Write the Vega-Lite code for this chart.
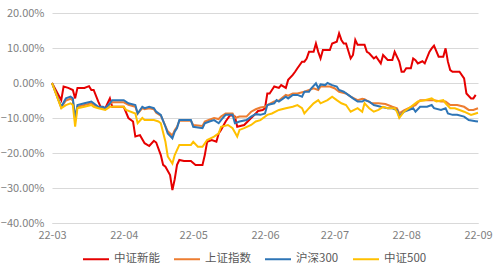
{
  "$schema": "https://vega.github.io/schema/vega-lite/v6.json",
  "width": 426,
  "height": 210,
  "autosize": {"type": "none"},
  "padding": {"left": 52, "top": 13, "right": 22, "bottom": 43},
  "background": "white",
  "config": {
    "view": {"stroke": null},
    "font": "Noto Sans CJK SC",
    "line": {"strokeWidth": 2, "interpolate": "linear"}
  },
  "datasets": {
    "red": [
      {"d":"2022-03-01","v":0},{"d":"2022-03-05","v":-4.9},{"d":"2022-03-06","v":-1.0},{"d":"2022-03-08","v":-1.4},{"d":"2022-03-10","v":-2.0},{"d":"2022-03-11","v":-4.4},{"d":"2022-03-12","v":-1.4},{"d":"2022-03-15","v":-1.4},{"d":"2022-03-17","v":-0.9},{"d":"2022-03-18","v":-2.0},{"d":"2022-03-19","v":-2.0},{"d":"2022-03-21","v":-5.3},{"d":"2022-03-22","v":-6.8},{"d":"2022-03-24","v":-7.2},{"d":"2022-03-26","v":-4.4},{"d":"2022-03-27","v":-6.8},{"d":"2022-03-28","v":-6.8},
      {"d":"2022-04-01","v":-6.8},{"d":"2022-04-03","v":-10.0},{"d":"2022-04-05","v":-11.0},{"d":"2022-04-06","v":-15.3},{"d":"2022-04-08","v":-14.9},{"d":"2022-04-10","v":-17.2},{"d":"2022-04-12","v":-18.0},{"d":"2022-04-14","v":-16.5},{"d":"2022-04-15","v":-17.0},{"d":"2022-04-17","v":-20.6},{"d":"2022-04-18","v":-23.4},{"d":"2022-04-19","v":-23.9},{"d":"2022-04-21","v":-26.3},{"d":"2022-04-22","v":-30.6},{"d":"2022-04-23","v":-27.5},{"d":"2022-04-24","v":-23.4},{"d":"2022-04-25","v":-22.0},{"d":"2022-04-27","v":-22.3},{"d":"2022-04-30","v":-22.3},
      {"d":"2022-05-02","v":-23.4},{"d":"2022-05-05","v":-23.4},{"d":"2022-05-06","v":-20.6},{"d":"2022-05-07","v":-16.8},{"d":"2022-05-09","v":-16.3},{"d":"2022-05-11","v":-16.8},{"d":"2022-05-12","v":-14.4},{"d":"2022-05-13","v":-13.4},{"d":"2022-05-15","v":-11.0},{"d":"2022-05-17","v":-9.1},{"d":"2022-05-19","v":-9.6},{"d":"2022-05-20","v":-12.5},{"d":"2022-05-23","v":-12.0},{"d":"2022-05-26","v":-10.0},{"d":"2022-05-28","v":-8.7},{"d":"2022-05-29","v":-8.0},{"d":"2022-05-31","v":-7.7},
      {"d":"2022-06-01","v":-7.2},{"d":"2022-06-02","v":-3.0},{"d":"2022-06-03","v":-3.0},{"d":"2022-06-04","v":-2.0},{"d":"2022-06-05","v":-1.0},{"d":"2022-06-07","v":-1.4},{"d":"2022-06-08","v":-0.6},{"d":"2022-06-10","v":-1.4},{"d":"2022-06-11","v":0.9},{"d":"2022-06-13","v":2.3},{"d":"2022-06-14","v":3.2},{"d":"2022-06-15","v":4.2},{"d":"2022-06-17","v":6.1},{"d":"2022-06-18","v":6.1},{"d":"2022-06-19","v":7.0},{"d":"2022-06-20","v":8.9},{"d":"2022-06-22","v":8.9},{"d":"2022-06-23","v":11.3},{"d":"2022-06-24","v":8.9},{"d":"2022-06-25","v":7.0},{"d":"2022-06-26","v":9.4},{"d":"2022-06-29","v":9.4},{"d":"2022-06-30","v":11.3},
      {"d":"2022-07-02","v":11.8},{"d":"2022-07-03","v":14.2},{"d":"2022-07-04","v":12.3},{"d":"2022-07-05","v":11.3},{"d":"2022-07-06","v":11.3},{"d":"2022-07-08","v":7.0},{"d":"2022-07-09","v":8.0},{"d":"2022-07-10","v":12.3},{"d":"2022-07-11","v":10.9},{"d":"2022-07-14","v":10.9},{"d":"2022-07-15","v":8.9},{"d":"2022-07-16","v":8.5},{"d":"2022-07-18","v":7.0},{"d":"2022-07-19","v":7.5},{"d":"2022-07-21","v":5.6},{"d":"2022-07-22","v":8.0},{"d":"2022-07-24","v":6.6},{"d":"2022-07-26","v":6.6},{"d":"2022-07-27","v":8.9},{"d":"2022-07-29","v":6.1},{"d":"2022-07-30","v":3.2},{"d":"2022-07-31","v":3.2},
      {"d":"2022-08-01","v":4.2},{"d":"2022-08-03","v":4.2},{"d":"2022-08-04","v":7.0},{"d":"2022-08-05","v":6.5},{"d":"2022-08-06","v":5.6},{"d":"2022-08-08","v":6.2},{"d":"2022-08-09","v":5.6},{"d":"2022-08-11","v":8.9},{"d":"2022-08-12","v":9.9},{"d":"2022-08-13","v":10.7},{"d":"2022-08-15","v":7.5},{"d":"2022-08-17","v":7.5},{"d":"2022-08-18","v":9.9},{"d":"2022-08-19","v":6.1},{"d":"2022-08-20","v":3.7},{"d":"2022-08-21","v":3.2},{"d":"2022-08-24","v":3.2},{"d":"2022-08-26","v":1.3},{"d":"2022-08-27","v":-3.0},{"d":"2022-08-29","v":-4.4},{"d":"2022-08-30","v":-4.4},{"d":"2022-08-31","v":-3.4}
    ],
    "orange": [
      {"d":"2022-03-01","v":0},{"d":"2022-03-05","v":-7.0},{"d":"2022-03-07","v":-5.0},{"d":"2022-03-09","v":-4.5},{"d":"2022-03-10","v":-5.0},{"d":"2022-03-11","v":-10.5},{"d":"2022-03-12","v":-6.8},{"d":"2022-03-15","v":-6.3},{"d":"2022-03-18","v":-5.8},{"d":"2022-03-19","v":-6.2},{"d":"2022-03-21","v":-7.0},{"d":"2022-03-23","v":-7.2},{"d":"2022-03-24","v":-7.5},{"d":"2022-03-26","v":-6.0},{"d":"2022-03-27","v":-5.5},
      {"d":"2022-04-01","v":-5.5},{"d":"2022-04-03","v":-6.2},{"d":"2022-04-06","v":-6.8},{"d":"2022-04-07","v":-8.8},{"d":"2022-04-09","v":-7.2},{"d":"2022-04-10","v":-7.5},{"d":"2022-04-12","v":-7.2},{"d":"2022-04-14","v":-7.5},{"d":"2022-04-15","v":-8.5},{"d":"2022-04-17","v":-9.3},{"d":"2022-04-19","v":-12.3},{"d":"2022-04-20","v":-13.8},{"d":"2022-04-22","v":-15.0},{"d":"2022-04-23","v":-13.5},{"d":"2022-04-24","v":-12.5},{"d":"2022-04-25","v":-10.8},{"d":"2022-04-30","v":-10.8},
      {"d":"2022-05-01","v":-12.0},{"d":"2022-05-05","v":-12.3},{"d":"2022-05-06","v":-11.0},{"d":"2022-05-08","v":-10.5},{"d":"2022-05-10","v":-10.0},{"d":"2022-05-12","v":-10.3},{"d":"2022-05-13","v":-9.6},{"d":"2022-05-15","v":-8.7},{"d":"2022-05-18","v":-8.7},{"d":"2022-05-19","v":-10.0},{"d":"2022-05-21","v":-9.6},{"d":"2022-05-24","v":-9.6},{"d":"2022-05-26","v":-8.2},{"d":"2022-05-28","v":-7.5},{"d":"2022-05-30","v":-7.0},
      {"d":"2022-06-01","v":-6.8},{"d":"2022-06-02","v":-6.3},{"d":"2022-06-05","v":-5.3},{"d":"2022-06-07","v":-5.0},{"d":"2022-06-10","v":-3.4},{"d":"2022-06-11","v":-3.6},{"d":"2022-06-13","v":-3.0},{"d":"2022-06-15","v":-3.0},{"d":"2022-06-18","v":-2.5},{"d":"2022-06-22","v":-1.5},{"d":"2022-06-24","v":-2.0},{"d":"2022-06-25","v":-1.0},{"d":"2022-06-29","v":-1.0},
      {"d":"2022-07-01","v":-1.5},{"d":"2022-07-03","v":-2.5},{"d":"2022-07-06","v":-3.0},{"d":"2022-07-08","v":-3.9},{"d":"2022-07-11","v":-4.9},{"d":"2022-07-13","v":-4.5},{"d":"2022-07-14","v":-4.6},{"d":"2022-07-17","v":-5.8},{"d":"2022-07-20","v":-5.8},{"d":"2022-07-23","v":-6.0},{"d":"2022-07-26","v":-6.8},{"d":"2022-07-28","v":-7.2},{"d":"2022-07-29","v":-8.7},{"d":"2022-07-31","v":-7.8},
      {"d":"2022-08-02","v":-7.2},{"d":"2022-08-05","v":-6.3},{"d":"2022-08-07","v":-4.9},{"d":"2022-08-11","v":-4.9},{"d":"2022-08-13","v":-4.9},{"d":"2022-08-16","v":-5.3},{"d":"2022-08-18","v":-5.3},{"d":"2022-08-20","v":-6.3},{"d":"2022-08-23","v":-6.3},{"d":"2022-08-26","v":-6.8},{"d":"2022-08-28","v":-7.7},{"d":"2022-08-30","v":-7.7},{"d":"2022-09-01","v":-7.2}
    ],
    "blue": [
      {"d":"2022-03-01","v":0},{"d":"2022-03-05","v":-6.8},{"d":"2022-03-07","v":-4.4},{"d":"2022-03-09","v":-3.9},{"d":"2022-03-10","v":-4.4},{"d":"2022-03-11","v":-10.0},{"d":"2022-03-12","v":-6.3},{"d":"2022-03-15","v":-5.8},{"d":"2022-03-18","v":-5.3},{"d":"2022-03-19","v":-5.8},{"d":"2022-03-21","v":-6.8},{"d":"2022-03-23","v":-6.8},{"d":"2022-03-24","v":-7.2},{"d":"2022-03-26","v":-5.8},{"d":"2022-03-27","v":-4.9},
      {"d":"2022-04-01","v":-4.9},{"d":"2022-04-03","v":-5.8},{"d":"2022-04-06","v":-6.3},{"d":"2022-04-07","v":-8.7},{"d":"2022-04-09","v":-6.8},{"d":"2022-04-10","v":-7.2},{"d":"2022-04-12","v":-6.8},{"d":"2022-04-14","v":-7.2},{"d":"2022-04-15","v":-8.2},{"d":"2022-04-17","v":-9.1},{"d":"2022-04-19","v":-12.5},{"d":"2022-04-20","v":-14.4},{"d":"2022-04-22","v":-15.8},{"d":"2022-04-23","v":-13.9},{"d":"2022-04-24","v":-12.9},{"d":"2022-04-25","v":-10.6},{"d":"2022-04-30","v":-10.6},
      {"d":"2022-05-01","v":-12.5},{"d":"2022-05-05","v":-12.9},{"d":"2022-05-06","v":-11.5},{"d":"2022-05-08","v":-11.0},{"d":"2022-05-10","v":-10.6},{"d":"2022-05-12","v":-11.5},{"d":"2022-05-13","v":-10.6},{"d":"2022-05-15","v":-9.1},{"d":"2022-05-18","v":-9.1},{"d":"2022-05-19","v":-11.5},{"d":"2022-05-21","v":-11.0},{"d":"2022-05-24","v":-10.6},{"d":"2022-05-26","v":-9.6},{"d":"2022-05-28","v":-8.9},{"d":"2022-05-30","v":-9.1},
      {"d":"2022-06-01","v":-8.7},{"d":"2022-06-02","v":-6.3},{"d":"2022-06-05","v":-5.8},{"d":"2022-06-06","v":-4.9},{"d":"2022-06-07","v":-5.3},{"d":"2022-06-10","v":-3.9},{"d":"2022-06-11","v":-4.4},{"d":"2022-06-13","v":-3.4},{"d":"2022-06-15","v":-3.4},{"d":"2022-06-17","v":-3.9},{"d":"2022-06-18","v":-2.5},{"d":"2022-06-20","v":-2.5},{"d":"2022-06-21","v":-1.5},{"d":"2022-06-23","v":-0.1},{"d":"2022-06-24","v":-1.5},{"d":"2022-06-25","v":-0.4},{"d":"2022-06-27","v":-0.6},{"d":"2022-06-28","v":0.0},{"d":"2022-06-30","v":-0.6},
      {"d":"2022-07-02","v":-1.0},{"d":"2022-07-03","v":-2.0},{"d":"2022-07-05","v":-2.5},{"d":"2022-07-08","v":-3.9},{"d":"2022-07-09","v":-4.4},{"d":"2022-07-11","v":-5.3},{"d":"2022-07-13","v":-5.3},{"d":"2022-07-14","v":-4.9},{"d":"2022-07-16","v":-5.3},{"d":"2022-07-18","v":-6.3},{"d":"2022-07-21","v":-6.8},{"d":"2022-07-24","v":-7.2},{"d":"2022-07-26","v":-7.2},{"d":"2022-07-28","v":-7.7},{"d":"2022-07-29","v":-9.6},{"d":"2022-07-31","v":-8.2},
      {"d":"2022-08-02","v":-7.7},{"d":"2022-08-04","v":-7.2},{"d":"2022-08-05","v":-8.2},{"d":"2022-08-07","v":-6.8},{"d":"2022-08-10","v":-6.8},{"d":"2022-08-12","v":-6.3},{"d":"2022-08-13","v":-7.2},{"d":"2022-08-16","v":-7.7},{"d":"2022-08-18","v":-7.2},{"d":"2022-08-19","v":-8.7},{"d":"2022-08-21","v":-9.1},{"d":"2022-08-23","v":-9.1},{"d":"2022-08-26","v":-9.6},{"d":"2022-08-28","v":-10.6},{"d":"2022-08-31","v":-10.9},{"d":"2022-09-01","v":-11.0}
    ],
    "yellow": [
      {"d":"2022-03-01","v":0},{"d":"2022-03-05","v":-7.2},{"d":"2022-03-07","v":-6.3},{"d":"2022-03-09","v":-5.8},{"d":"2022-03-10","v":-6.3},{"d":"2022-03-11","v":-12.5},{"d":"2022-03-12","v":-7.2},{"d":"2022-03-15","v":-6.8},{"d":"2022-03-18","v":-6.3},{"d":"2022-03-19","v":-6.8},{"d":"2022-03-21","v":-7.2},{"d":"2022-03-24","v":-7.7},{"d":"2022-03-26","v":-6.8},
      {"d":"2022-04-01","v":-6.8},{"d":"2022-04-02","v":-7.7},{"d":"2022-04-06","v":-8.7},{"d":"2022-04-07","v":-11.5},{"d":"2022-04-09","v":-10.0},{"d":"2022-04-10","v":-10.6},{"d":"2022-04-14","v":-10.6},{"d":"2022-04-16","v":-11.0},{"d":"2022-04-17","v":-11.5},{"d":"2022-04-19","v":-16.8},{"d":"2022-04-20","v":-21.0},{"d":"2022-04-22","v":-23.0},{"d":"2022-04-23","v":-20.6},{"d":"2022-04-25","v":-17.7},{"d":"2022-04-30","v":-17.7},
      {"d":"2022-05-01","v":-16.8},{"d":"2022-05-03","v":-18.2},{"d":"2022-05-05","v":-18.2},{"d":"2022-05-07","v":-16.3},{"d":"2022-05-10","v":-15.3},{"d":"2022-05-12","v":-14.4},{"d":"2022-05-13","v":-12.5},{"d":"2022-05-16","v":-12.0},{"d":"2022-05-18","v":-12.9},{"d":"2022-05-20","v":-15.3},{"d":"2022-05-21","v":-13.4},{"d":"2022-05-23","v":-12.9},{"d":"2022-05-26","v":-12.0},{"d":"2022-05-28","v":-11.0},{"d":"2022-05-30","v":-10.6},
      {"d":"2022-06-02","v":-9.1},{"d":"2022-06-04","v":-8.7},{"d":"2022-06-07","v":-7.7},{"d":"2022-06-10","v":-7.2},{"d":"2022-06-13","v":-6.8},{"d":"2022-06-15","v":-6.3},{"d":"2022-06-17","v":-7.2},{"d":"2022-06-18","v":-8.7},{"d":"2022-06-20","v":-7.2},{"d":"2022-06-22","v":-5.8},{"d":"2022-06-24","v":-4.9},{"d":"2022-06-25","v":-5.8},{"d":"2022-06-28","v":-4.9},{"d":"2022-06-30","v":-3.9},
      {"d":"2022-07-02","v":-4.9},{"d":"2022-07-04","v":-5.8},{"d":"2022-07-06","v":-6.3},{"d":"2022-07-08","v":-8.2},{"d":"2022-07-11","v":-7.2},{"d":"2022-07-13","v":-8.2},{"d":"2022-07-14","v":-5.8},{"d":"2022-07-16","v":-7.2},{"d":"2022-07-18","v":-8.2},{"d":"2022-07-20","v":-7.7},{"d":"2022-07-22","v":-6.8},{"d":"2022-07-24","v":-7.2},{"d":"2022-07-27","v":-7.2},{"d":"2022-07-28","v":-8.2},{"d":"2022-07-29","v":-10.0},{"d":"2022-07-31","v":-8.2},
      {"d":"2022-08-03","v":-6.8},{"d":"2022-08-06","v":-5.3},{"d":"2022-08-09","v":-4.9},{"d":"2022-08-12","v":-4.4},{"d":"2022-08-14","v":-5.3},{"d":"2022-08-17","v":-4.9},{"d":"2022-08-18","v":-5.8},{"d":"2022-08-20","v":-7.2},{"d":"2022-08-22","v":-7.2},{"d":"2022-08-24","v":-7.7},{"d":"2022-08-26","v":-8.2},{"d":"2022-08-29","v":-9.1},{"d":"2022-08-31","v":-8.7},{"d":"2022-09-01","v":-8.5}
    ]
  },
  "encoding": {
    "x": {
      "field": "d", "type": "temporal",
      "scale": {"domain": ["2022-03-01", "2022-09-01"]},
      "axis": {
        "title": null, "format": "%y-%m", "tickCount": "month", "grid": false,
        "ticks": false, "domain": true, "domainColor": "#D9D9D9", "domainWidth": 1,
        "labelColor": "#7F7F7F", "labelFontSize": 11, "labelPadding": 6,
        "labelFont": "Noto Sans CJK SC", "labelOverlap": false, "labelFlush": false
      }
    },
    "y": {
      "field": "v", "type": "quantitative",
      "scale": {"domain": [-40, 20], "nice": false, "zero": false},
      "axis": {
        "title": null, "values": [-40, -30, -20, -10, 0, 10, 20],
        "labelExpr": "format(datum.value, '.2f') + '%'",
        "grid": true, "gridColor": "#D9D9D9", "gridWidth": 1,
        "domain": false, "ticks": false,
        "labelColor": "#7F7F7F", "labelFontSize": 11, "labelPadding": 8,
        "labelFont": "Noto Sans CJK SC"
      }
    }
  },
  "layer": [
    {
      "data": {"name": "red"},
      "mark": {"type": "line", "strokeWidth": 2},
      "encoding": {
        "color": {
          "datum": "中证新能",
          "scale": {"domain": ["中证新能", "上证指数", "沪深300", "中证500"], "range": ["#E60000", "#ED7D31", "#2E75B6", "#FFC000"]},
          "legend": {
            "title": null, "orient": "none", "direction": "horizontal",
            "legendX": 30, "legendY": 232,
            "symbolType": "stroke", "symbolSize": 676, "symbolStrokeWidth": 2.5,
            "labelFontSize": 11.5, "labelColor": "#595959", "labelFont": "Noto Sans CJK SC",
            "labelOffset": 4, "columnPadding": 10
          }
        }
      }
    },
    {"data": {"name": "orange"}, "mark": {"type": "line", "strokeWidth": 2}, "encoding": {"color": {"datum": "上证指数"}}},
    {"data": {"name": "blue"}, "mark": {"type": "line", "strokeWidth": 2}, "encoding": {"color": {"datum": "沪深300"}}},
    {"data": {"name": "yellow"}, "mark": {"type": "line", "strokeWidth": 2}, "encoding": {"color": {"datum": "中证500"}}}
  ]
}
